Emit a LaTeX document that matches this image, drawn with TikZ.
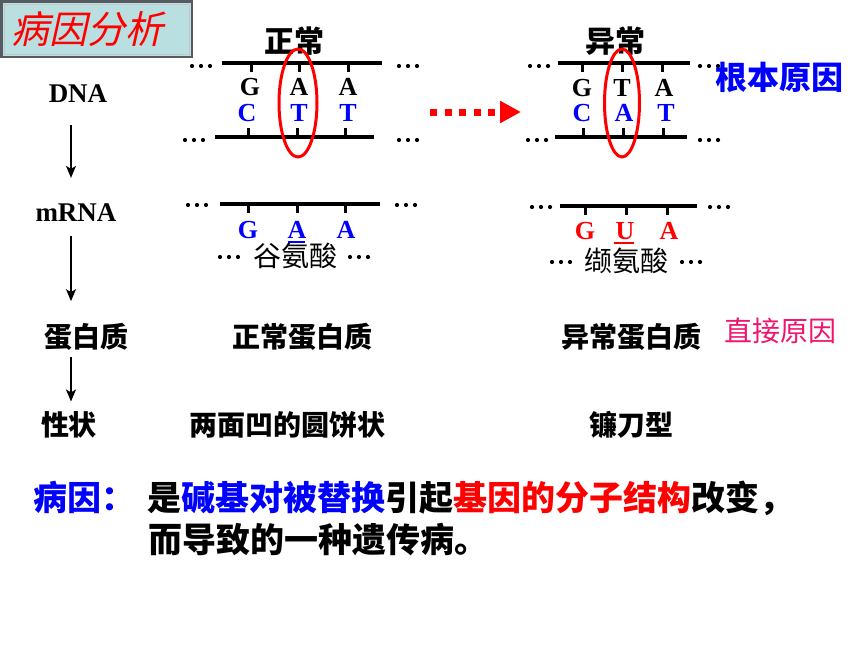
\documentclass[tikz,border=0pt]{standalone}
\usepackage{fontspec}
\setmainfont{Liberation Serif}
\newfontfamily\cjk{Noto Sans CJK SC}
\newfontfamily\cjkslant[FakeSlant=0.22]{Noto Sans CJK SC}
\usetikzlibrary{arrows.meta}
\definecolor{Teal1}{HTML}{BADFE1}
\definecolor{Frame1}{HTML}{555B60}
\definecolor{Blue1}{HTML}{0000FF}
\definecolor{Red1}{HTML}{FF0000}
\definecolor{Pink1}{HTML}{F0146E}
% three small dots centred at (x,y)
\newcommand{\ellip}[2]{\foreach \k in {-1,0,1}{\fill (#1+9*\k,#2) circle (2.1pt);}}

\begin{document}
\begin{tikzpicture}[x=1pt,y=-1pt,
  base/.style={inner sep=0pt,font=\fontsize{26}{26}\selectfont\bfseries},
  lab/.style={inner sep=0pt,font=\fontsize{27}{27}\selectfont\bfseries},
  hz/.style={inner sep=0pt,font=\cjk\fontsize{28}{28}\selectfont\bfseries},
  aa/.style={inner sep=0pt,font=\cjk\fontsize{28}{28}\selectfont},
  strand/.style={line width=4pt},
  tick/.style={line width=3pt},
  flow/.style={line width=1.6pt,-{Stealth[length=12pt,width=10pt,inset=3pt]}}]
  \useasboundingbox (0,0) rectangle (860,645);

  % Title
  \draw[fill=Teal1,draw=Frame1,line width=2.5pt] (1.5,1.5) rectangle (192,57);
  \draw[Frame1!35,line width=0.8pt] (4.5,4.5) rectangle (189,54);
  \node[inner sep=0pt,text=Red1,font=\cjkslant\fontsize{38}{38}\selectfont] (title) at (88,29) {病因分析};

  % Left column
  \coordinate (axis) at (71,0);
  \node[lab] (dna) at (78,94) {DNA};
  \node[lab] (mrna) at (76,213) {mRNA};
  \node[hz] (prot) at (86,337) {蛋白质};
  \node[hz] (trait) at (69,425) {性状};
  \draw[flow,shorten <=22pt,shorten >=26pt] (dna.south -| axis) -- (mrna.north -| axis);
  \draw[flow,shorten <=14pt,shorten >=22pt] (mrna.south -| axis) -- (prot.north -| axis);
  \draw[flow,shorten <=6pt,shorten >=10pt] (prot.south -| axis) -- (trait.north -| axis);

  % Normal DNA
  \node[inner sep=0pt,font=\cjk\fontsize{30}{30}\selectfont\bfseries] (normal) at (294,41) {正常};
  \draw[strand] (222,63) -- (382,63);
  \draw[strand] (215,137) -- (374,137);
  \ellip{201}{66} \ellip{408}{66}
  \ellip{194}{140} \ellip{408}{140}
  \draw[tick] (251,63) -- (251,72);
  \draw[tick] (299,63) -- (299,72);
  \draw[tick] (348,63) -- (348,72);
  \draw[tick] (248,137) -- (248,128);
  \draw[tick] (297,137) -- (297,128);
  \draw[tick] (345,137) -- (345,128);
  \node[base] (nG) at (250,87) {G};
  \node[base] (nA) at (299,87) {A};
  \node[base] (nA2) at (348,87) {A};
  \node[base,text=Blue1] (nC) at (247,113) {C};
  \node[base,text=Blue1] (nT) at (299,113) {T};
  \node[base,text=Blue1] (nT2) at (348,113) {T};
  \draw[Red1,line width=3pt] (298,103) ellipse [x radius=19,y radius=54];

  % Abnormal DNA
  \node[inner sep=0pt,font=\cjk\fontsize{30}{30}\selectfont\bfseries] (abnormal) at (615,41) {异常};
  \draw[strand] (558,63) -- (690,63);
  \draw[strand] (555,137) -- (687,137);
  \ellip{539}{66} \ellip{709}{66}
  \ellip{537}{140} \ellip{709}{140}
  \draw[tick] (582,63) -- (582,72);
  \draw[tick] (622,63) -- (622,72);
  \draw[tick] (662,63) -- (662,72);
  \draw[tick] (583,137) -- (583,128);
  \draw[tick] (623,137) -- (623,128);
  \draw[tick] (663,137) -- (663,128);
  \node[base] (aG) at (582,88) {G};
  \node[base] (aT) at (622,88) {T};
  \node[base] (aA) at (664,88) {A};
  \node[base,text=Blue1] (aC) at (582,113) {C};
  \node[base,text=Blue1] (aA2) at (624,113) {A};
  \node[base,text=Blue1] (aT2) at (666,113) {T};
  \draw[Red1,line width=3pt] (622,103) ellipse [x radius=17.5,y radius=54];
  \node[inner sep=0pt,text=Blue1,font=\cjk\fontsize{32}{32}\selectfont\bfseries] (root) at (779,77) {根本原因};

  % Mutation arrow
  \coordinate (mutS) at (430,112);
  \coordinate (mutE) at (521,112);
  \draw[Red1,line width=7pt,dash pattern=on 7pt off 7.5pt,
    -{Triangle[length=21pt,width=21pt]}] (mutS) -- (mutE);

  % Normal mRNA
  \draw[strand] (220,204) -- (380,204);
  \ellip{197}{205} \ellip{406}{205}
  \draw[tick] (248,204) -- (248,213);
  \draw[tick] (297,204) -- (297,213);
  \draw[tick] (345,204) -- (345,213);
  \node[base,text=Blue1] (mG) at (248,230) {G};
  \node[base,text=Blue1] (mA) at (297,230) {A};
  \node[base,text=Blue1] (mA2) at (346,230) {A};
  \draw[Blue1,line width=1.5pt] (288,242) -- (305,242);
  \node[aa] (glu) at (295,256) {谷氨酸};
  \ellip{229}{257} \ellip{359}{257}

  % Abnormal mRNA
  \draw[strand] (560,206) -- (697,206);
  \ellip{541}{207} \ellip{719}{207}
  \draw[tick] (585,206) -- (585,215);
  \draw[tick] (626,206) -- (626,215);
  \draw[tick] (667,206) -- (667,215);
  \node[base,text=Red1] (uG) at (585,231) {G};
  \node[base,text=Red1] (uU) at (625,231) {U};
  \node[base,text=Red1] (uA) at (669,231) {A};
  \draw[Red1,line width=1.5pt] (614,243) -- (634,243);
  \node[aa] (val) at (626,261) {缬氨酸};
  \ellip{561}{262} \ellip{691}{262}

  % Protein and trait rows
  \node[hz] (nprot) at (302,337) {正常蛋白质};
  \node[hz] (aprot) at (631,337) {异常蛋白质};
  \node[aa,text=Pink1] (direct) at (780,331) {直接原因};
  \node[hz] (ntrait) at (287,425) {两面凹的圆饼状};
  \node[hz] (atrait) at (631,425) {镰刀型};

  % Cause
  \node[inner sep=0pt,anchor=west,font=\cjk\fontsize{34}{34}\selectfont\bfseries] (cause) at (33,498)
    {\textcolor{Blue1}{病因：}\hspace{12pt}是\textcolor{Blue1}{碱基对被替换}引起\textcolor{Red1}{基因的分子结构}改变，};
  \node[inner sep=0pt,anchor=west,font=\cjk\fontsize{34}{34}\selectfont\bfseries] (cause2) at (148,540)
    {而导致的一种遗传病。};
\end{tikzpicture}
\end{document}
